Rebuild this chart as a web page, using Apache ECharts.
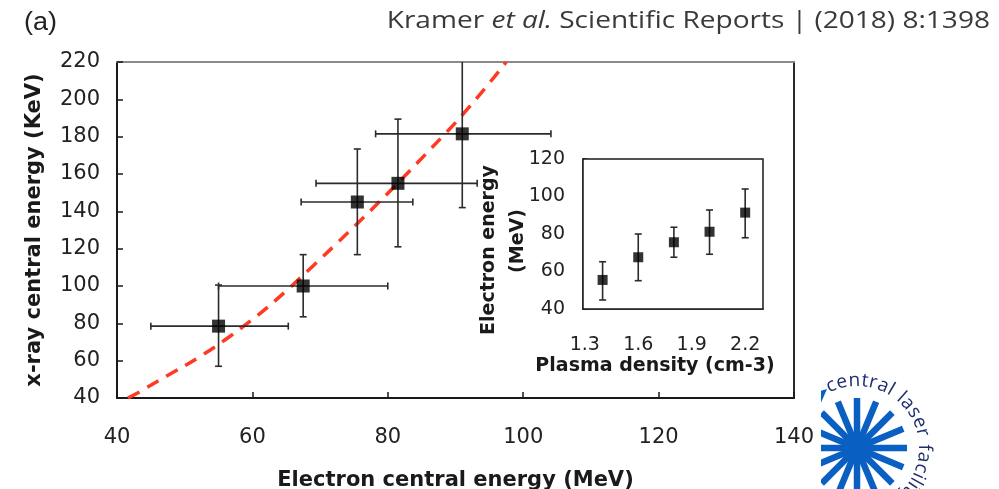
<!DOCTYPE html>
<html>
<head>
<meta charset="utf-8">
<script src="https://cdn.jsdelivr.net/npm/echarts@6/dist/echarts.min.js"></script>
<style>
html,body{margin:0;padding:0;background:#fff;}
#chart{width:999px;height:489px;}
</style>
</head>
<body>
<div id="chart"></div>
<script>
// ---- Main panel data (Electron central energy vs x-ray central energy) ----
const mainX      = [55, 67.5, 75.5, 81.5, 91];
const mainY      = [78.5, 100, 145, 155, 181.5];
const mainXLow   = [45, 55, 67.2, 69.4, 78.2];
const mainXHigh  = [65.3, 80, 83.7, 93.2, 104.1];
const mainYLow   = [57, 83.5, 116.8, 121, 142];
const mainYHigh  = [100.5, 116.8, 173.4, 189.4, 224];

// dashed fit curve
const fitX = [41.6, 43.4, 56.6, 68.8, 89, 97.5];
const fitY = [40, 43.4, 72.8, 110.2, 183.6, 220];

// ---- Inset data (Plasma density vs Electron energy) ----
const insetX     = [1.4, 1.6, 1.8, 2.0, 2.2];
const insetY     = [55.5, 67.6, 75.6, 81.2, 91.4];
const insetYLow  = [44.8, 55.1, 67.6, 69.2, 78];
const insetYHigh = [65.2, 80, 83.6, 92.8, 104];
const insetXTicks = [1.3, 1.6, 1.9, 2.2];

const chart = echarts.init(document.getElementById('chart'), null, {renderer: 'canvas'});

const FONT = 'DejaVu Sans';
const ERR = {stroke: '#2b2b2b', lineWidth: 1.6};

function mainErr(params, api) {
  const y = api.value(1), x = api.value(0);
  const a = api.coord([api.value(2), y]), b = api.coord([api.value(3), y]);
  const c = api.coord([x, api.value(4)]), d = api.coord([x, api.value(5)]);
  const cap = 3.5;
  const L = (x1, y1, x2, y2) => ({type: 'line', shape: {x1, y1, x2, y2}, style: ERR});
  return {type: 'group', children: [
    L(a[0], a[1], b[0], b[1]),
    L(a[0], a[1] - cap, a[0], a[1] + cap),
    L(b[0], b[1] - cap, b[0], b[1] + cap),
    L(c[0], c[1], d[0], d[1]),
    L(c[0] - cap, c[1], c[0] + cap, c[1]),
    L(d[0] - cap, d[1], d[0] + cap, d[1])
  ]};
}
function insetErr(params, api) {
  const x = api.value(0);
  const c = api.coord([x, api.value(2)]), d = api.coord([x, api.value(3)]);
  const cap = 3.5;
  const L = (x1, y1, x2, y2) => ({type: 'line', shape: {x1, y1, x2, y2}, style: ERR});
  return {type: 'group', children: [
    L(c[0], c[1], d[0], d[1]),
    L(c[0] - cap, c[1], c[0] + cap, c[1]),
    L(d[0] - cap, d[1], d[0] + cap, d[1])
  ]};
}

const boldName = {font: 'bold 19px "DejaVu Sans"', fill: '#1a1a1a', align: 'center', verticalAlign: 'middle'};

const option = {
  animation: false,
  backgroundColor: '#fff',
  graphic: [
    {type: 'text', x: 24, y: 23, scaleX: 1.08,
     style: {text: '(a)', x: 0, y: 0, verticalAlign: 'middle', font: '25px "Liberation Sans"', fill: '#222'}},
    {type: 'text', x: 990, y: 21, scaleX: 1.22,
     style: {text: 'Kramer {i|et al.} Scientific Reports | (2018) 8:1398', x: 0, y: 0, align: 'right', verticalAlign: 'middle',
       fontFamily: 'Open Sans', fontSize: 23, fill: '#3a3a3a',
       rich: {i: {fontFamily: 'Open Sans', fontSize: 23, fontStyle: 'italic', fill: '#3a3a3a'}}}},
    // inset y-axis title (two lines, placed as in the reference)
    {type: 'text', x: 489, y: 250, rotation: Math.PI / 2, z: 10,
     style: Object.assign({text: 'Electron energy', x: 0, y: 0}, boldName)},
    {type: 'text', x: 518, y: 241, rotation: Math.PI / 2, z: 10,
     style: Object.assign({text: '(MeV)', x: 0, y: 0}, boldName)}
  ],
  grid: [
    {left: 117, top: 62, width: 677, height: 336, show: false, containLabel: false, outerBoundsMode: 'none'},
    {left: 583, top: 159, width: 180, height: 150, show: true, backgroundColor: '#fff', borderColor: '#1a1a1a', borderWidth: 1.5, z: 5,
     containLabel: false, outerBoundsMode: 'none'}
  ],
  xAxis: [
    {type: 'value', gridIndex: 0, min: 40, max: 140, interval: 20, position: 'bottom',
     axisLine: {show: true, onZero: false, lineStyle: {color: '#1a1a1a', width: 2}},
     axisTick: {show: true, inside: true, length: 6, lineStyle: {color: '#1a1a1a', width: 1.5}},
     axisLabel: {margin: 29, fontFamily: FONT, fontSize: 21, color: '#222'},
     splitLine: {show: false},
     name: 'Electron central energy (MeV)', nameLocation: 'middle', nameGap: 72,
     nameTextStyle: {fontFamily: FONT, fontSize: 21, fontWeight: 'bold', color: '#1a1a1a'}},
    {type: 'value', gridIndex: 0, min: 40, max: 140, position: 'top',
     axisLine: {show: true, onZero: false, lineStyle: {color: '#8a8a8a', width: 2}},
     axisTick: {show: false}, axisLabel: {show: false}, splitLine: {show: false}},
    {type: 'value', gridIndex: 1, min: 1.29, max: 2.3, position: 'bottom',
     axisLine: {show: true, onZero: false, lineStyle: {color: '#1a1a1a', width: 1.5}},
     axisTick: {show: true, inside: true, length: 5, customValues: insetXTicks, lineStyle: {color: '#1a1a1a', width: 1.5}},
     axisLabel: {margin: 27, fontFamily: FONT, fontSize: 19, color: '#222', customValues: insetXTicks,
       formatter: v => v.toFixed(1)},
     splitLine: {show: false},
     name: 'Plasma density (cm-3)', nameLocation: 'middle', nameGap: 48,
     nameTextStyle: {fontFamily: FONT, fontSize: 19, fontWeight: 'bold', color: '#1a1a1a', padding: [0, 36, 0, 0]}}
  ],
  yAxis: [
    {type: 'value', gridIndex: 0, min: 40, max: 220, interval: 20, position: 'left',
     axisLine: {show: true, onZero: false, lineStyle: {color: '#1a1a1a', width: 2}},
     axisTick: {show: true, inside: true, length: 6, lineStyle: {color: '#1a1a1a', width: 1.5}},
     axisLabel: {margin: 17, fontFamily: FONT, fontSize: 21, color: '#222'},
     splitLine: {show: false},
     name: 'x-ray central energy (KeV)', nameLocation: 'middle', nameGap: 72,
     nameTextStyle: {fontFamily: FONT, fontSize: 21, fontWeight: 'bold', color: '#1a1a1a'}},
    {type: 'value', gridIndex: 0, min: 40, max: 220, position: 'right',
     axisLine: {show: true, onZero: false, lineStyle: {color: '#2a2a2a', width: 2}},
     axisTick: {show: false}, axisLabel: {show: false}, splitLine: {show: false}},
    {type: 'value', gridIndex: 1, min: 40, max: 120, interval: 20, position: 'left',
     axisLine: {show: true, onZero: false, lineStyle: {color: '#1a1a1a', width: 1.5}},
     axisTick: {show: true, inside: true, length: 4, lineStyle: {color: '#1a1a1a', width: 1.5}},
     axisLabel: {margin: 18, fontFamily: FONT, fontSize: 19, color: '#222'},
     splitLine: {show: false}}
  ],
  series: [
    {type: 'line', xAxisIndex: 0, yAxisIndex: 0, data: fitX.map((x, i) => [x, fitY[i]]),
     smooth: 0.4, showSymbol: false, symbol: 'none', z: 3,
     lineStyle: {color: '#ff3a22', width: 3.5, type: [13, 9]}},
    {type: 'custom', xAxisIndex: 0, yAxisIndex: 0, clip: true, z: 4, renderItem: mainErr,
     encode: {x: 0, y: 1},
     data: mainX.map((x, i) => [x, mainY[i], mainXLow[i], mainXHigh[i], mainYLow[i], mainYHigh[i]])},
    {type: 'scatter', xAxisIndex: 0, yAxisIndex: 0, symbol: 'rect', symbolSize: 13, z: 5,
     itemStyle: {color: '#000'}, data: mainX.map((x, i) => [x, mainY[i]])},
    {type: 'custom', xAxisIndex: 2, yAxisIndex: 2, clip: true, z: 6, renderItem: insetErr,
     encode: {x: 0, y: 1},
     data: insetX.map((x, i) => [x, insetY[i], insetYLow[i], insetYHigh[i]])},
    {type: 'scatter', xAxisIndex: 2, yAxisIndex: 2, symbol: 'rect', symbolSize: 10, z: 7,
     itemStyle: {color: '#000'}, data: insetX.map((x, i) => [x, insetY[i]])}
  ]
};
chart.setOption(option);

// ---- CLF logo (decoration, clipped at left like the reference) ----
(function drawLogo() {
  const zr = chart.getZr();
  const g = new echarts.graphic.Group();
  g.setClipPath(new echarts.graphic.Rect({shape: {x: 821, y: 0, width: 200, height: 489}}));
  const cx = 857, cy = 448, r = 50;
  const blue = '#0a5fc2';
  for (let i = 0; i < 16; i++) {
    const a = i * Math.PI / 8;
    g.add(new echarts.graphic.Line({
      shape: {x1: cx, y1: cy, x2: cx + r * Math.cos(a), y2: cy - r * Math.sin(a)},
      style: {stroke: blue, lineWidth: 6.5, lineCap: 'butt'}
    }));
  }
  g.add(new echarts.graphic.Polygon({shape: {points: [[820, 391], [827, 389], [820, 405]]}, style: {fill: blue}}));
  const txt = 'central laser facility';
  const font = '19px "Open Sans"';
  const ctx = document.createElement('canvas').getContext('2d');
  ctx.font = font;
  const R = 58, Rm = 59;
  let theta = 117 * Math.PI / 180;
  for (const ch of txt) {
    const w = ctx.measureText(ch).width * (ch === ' ' ? 1.3 : 1);
    const mid = theta - (w / 2) / Rm;
    g.add(new echarts.graphic.Text({
      x: cx + R * Math.cos(mid), y: cy - R * Math.sin(mid),
      rotation: mid - Math.PI / 2,
      style: {text: ch, font: font, fill: '#1d2d6e', align: 'center', verticalAlign: 'bottom'}
    }));
    theta -= w / Rm;
  }
  zr.add(g);
})();
</script>
</body>
</html>
